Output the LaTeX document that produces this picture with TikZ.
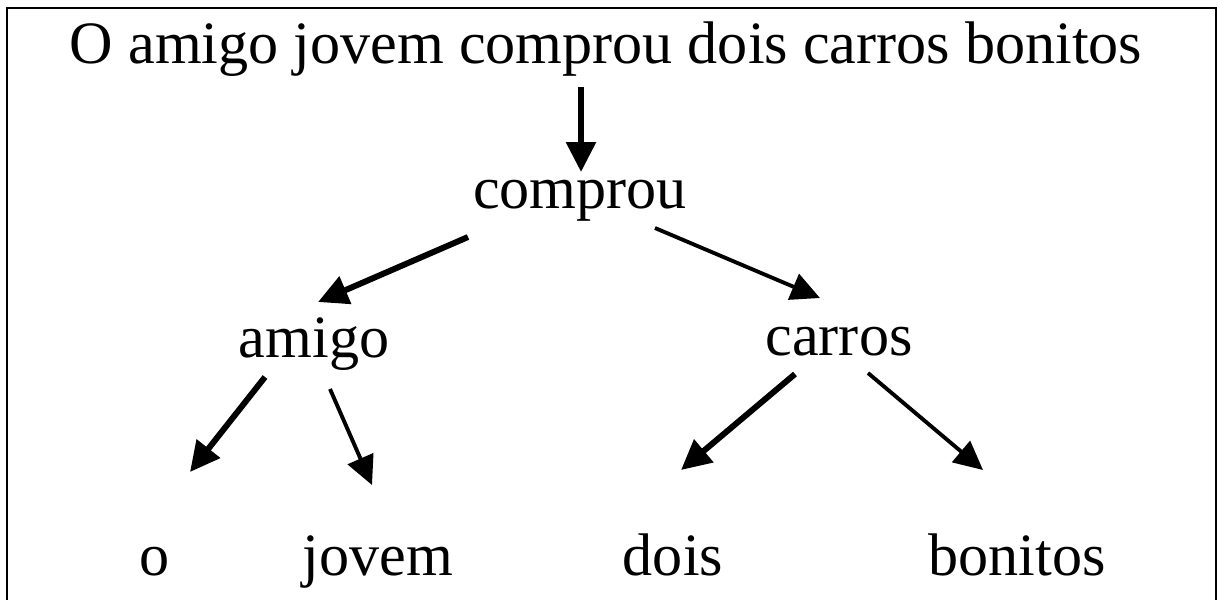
\documentclass[tikz,border=0pt]{standalone}
\usepackage{fontspec}
\setmainfont{Liberation Serif}
\usetikzlibrary{calc,arrows.meta}

\begin{document}
\begin{tikzpicture}[x=0.01cm,y=-0.01cm,
	word/.style = {anchor=base, inner sep=0pt, font=\fontsize{17.1}{20}\selectfont},
	bold/.style = {line width=1.7pt, -{Triangle[length=8.5pt,width=8.2pt]}},
	thin/.style = {line width=1.1pt, -{Triangle[length=8.2pt,width=7.8pt]}}]
	\useasboundingbox (0,0) rectangle (1219,599);
	\begin{scope}
	\clip (0,0) rectangle (1219,599);
	\draw[line width=0.6pt] (7,640) -- (7,8) -- (1216,8) -- (1216,640);
	\end{scope}
	\node[word] (s) at (606,63) {O amigo jovem comprou dois carros bonitos};
	\node[word] (v) at (580,208) {comprou};
	\node[word] (a) at (314,357) {amigo};
	\node[word] (c) at (839,355) {carros};
	\node[word] (o) at (155,575) {o};
	\node[word] (j) at (378,575) {jovem};
	\node[word] (d) at (673,575) {dois};
	\node[word] (b) at (1017,575) {bonitos};
	\draw[bold] ($(s.base)+(-25,24)$) -- ($(v.base)+(1,-36)$);
	\draw[bold] ($(v.base)+(-112,29)$) -- ($(a.base)+(4,-55)$);
	\draw[thin] ($(v.base)+(75,20)$) -- ($(c.base)+(-19,-57)$);
	\draw[bold] ($(a.base)+(-49,20)$) -- ($(o.base)+(35,-103)$);
	\draw[thin] ($(a.base)+(16,32)$) -- ($(j.base)+(-6,-90)$);
	\draw[bold] ($(c.base)+(-44,19)$) -- ($(d.base)+(8,-105)$);
	\draw[thin] ($(c.base)+(29,18)$) -- ($(b.base)+(-34,-105)$);
\end{tikzpicture}
\end{document}
